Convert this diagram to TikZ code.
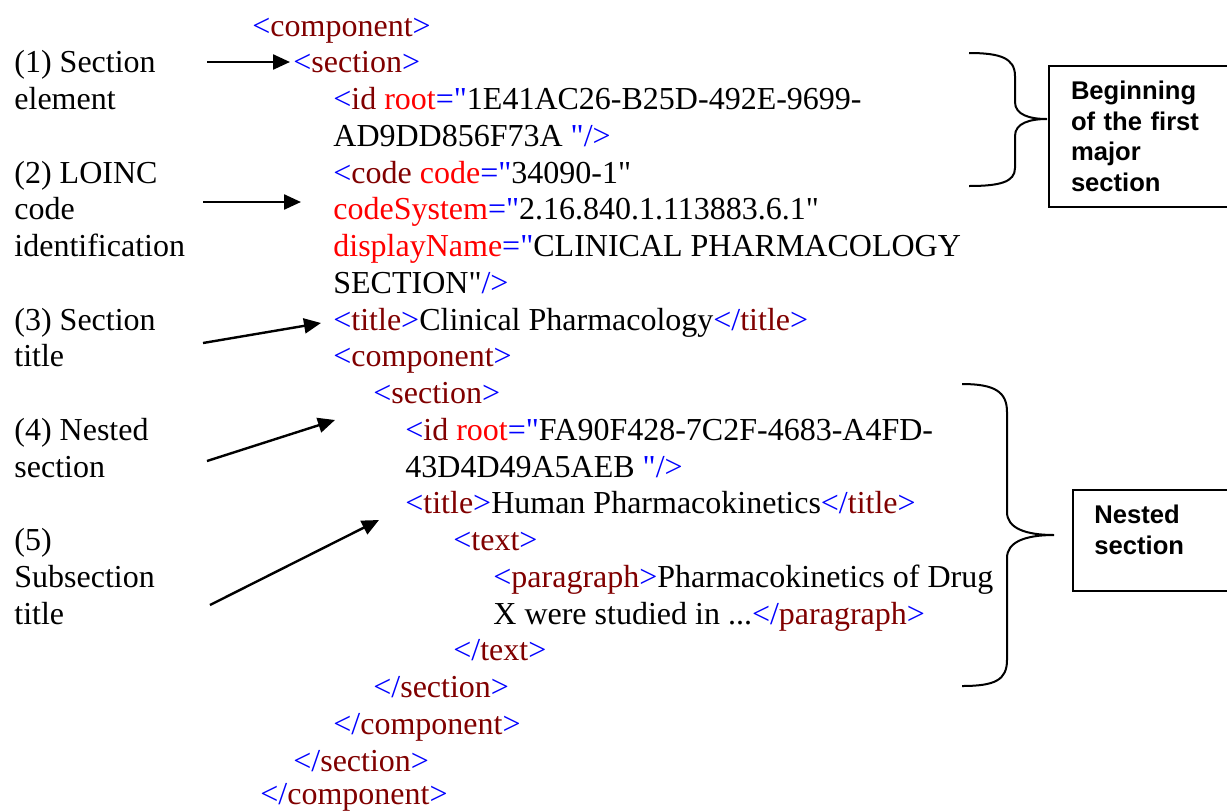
\documentclass[tikz,border=0pt]{standalone}
\usepackage{fontspec}
\setmainfont{Liberation Serif}[Ligatures=TeXOff]
\newfontfamily\boxfont{Liberation Sans}
\usetikzlibrary{arrows.meta}
\definecolor{xblue}{RGB}{0,0,255}
\definecolor{xtag}{RGB}{128,0,0}
\definecolor{xattr}{RGB}{255,0,0}
\newcommand\xb[1]{\textcolor{xblue}{#1}}
\newcommand\xt[1]{\textcolor{xtag}{#1}}
\newcommand\xa[1]{\textcolor{xattr}{#1}}
\tikzset{
  xml/.style={anchor=base west, inner sep=0pt, font=\fontsize{16}{18}\selectfont},
  lbl/.style={anchor=base west, inner sep=0pt, font=\fontsize{16}{18}\selectfont},
  arr/.style={line width=1.2pt, -{Triangle[length=8.5pt,width=7.5pt]}},
  brace/.style={line width=1pt},
  notebox/.style={draw, line width=1pt, anchor=north west, align=left,
    font=\boxfont\bfseries\fontsize{12.8}{15.3}\selectfont, inner xsep=11pt,
    text width=75pt},
  notetext/.style={anchor=north west, align=left, inner sep=0pt,
    font=\boxfont\bfseries\fontsize{12.8}{15.3}\selectfont},
  framebox/.style={draw, line width=1pt, anchor=north west, inner sep=0pt}
}
\begin{document}
\begin{tikzpicture}[x=0.5pt,y=-0.5pt]
\useasboundingbox (0,0) rectangle (1227,810);
\clip (0,0) rectangle (1227,810);
\def\L#1{36+36.76*#1}
% XML lines
\node[xml] (l0)  at (252,{\L{0}})  {\xb{<}\xt{component}\xb{>}};
\node[xml] (l1)  at (293,{\L{1}})  {\xb{<}\xt{section}\xb{>}};
\node[xml] (l2)  at (333,{\L{2}})  {\xb{<}\xt{id} \xa{root}\xb{="}1E41AC26-B25D-492E-9699-};
\node[xml] (l3)  at (333,{\L{3}})  {AD9DD856F73A \xb{"/>}};
\node[xml] (l4)  at (333,{\L{4}})  {\xb{<}\xt{code} \xa{code}\xb{="}34090-1"};
\node[xml] (l5)  at (333,{\L{5}})  {\xa{codeSystem}\xb{="}2.16.840.1.113883.6.1"};
\node[xml] (l6)  at (333,{\L{6}})  {\xa{displayName}\xb{="}CLINICAL PHARMACOLOGY};
\node[xml] (l7)  at (333,{\L{7}})  {SECTION"\xb{/>}};
\node[xml] (l8)  at (333,{\L{8}})  {\xb{<}\xt{title}\xb{>}Clinical Pharmacology\xb{</}\xt{title}\xb{>}};
\node[xml] (l9)  at (333,{\L{9}})  {\xb{<}\xt{component}\xb{>}};
\node[xml] (l10) at (373,{\L{10}}) {\xb{<}\xt{section}\xb{>}};
\node[xml] (l11) at (405,{\L{11}}) {\xb{<}\xt{id} \xa{root}\xb{="}FA90F428-7C2F-4683-A4FD-};
\node[xml] (l12) at (405,{\L{12}}) {43D4D49A5AEB \xb{"/>}};
\node[xml] (l13) at (405,{\L{13}}) {\xb{<}\xt{title}\xb{>}Human Pharmacokinetics\xb{</}\xt{title}\xb{>}};
\node[xml] (l14) at (453,{\L{14}}) {\xb{<}\xt{text}\xb{>}};
\node[xml] (l15) at (493,{\L{15}}) {\xb{<}\xt{paragraph}\xb{>}Pharmacokinetics of Drug};
\node[xml] (l16) at (493,{\L{16}}) {X were studied in ...\xb{</}\xt{paragraph}\xb{>}};
\node[xml] (l17) at (453,{\L{17}}) {\xb{</}\xt{text}\xb{>}};
\node[xml] (l18) at (373,{\L{18}}) {\xb{</}\xt{section}\xb{>}};
\node[xml] (l19) at (333,{\L{19}}) {\xb{</}\xt{component}\xb{>}};
\node[xml] (l20) at (293,{\L{20}}) {\xb{</}\xt{section}\xb{>}};
\node[xml] (l21) at (260,{\L{21}-3}) {\xb{</}\xt{component}\xb{>}};
% left labels
\node[lbl] (a1) at (14,{\L{1}})  {(1) Section};
\node[lbl] (a1b) at (14,{\L{2}}) {element};
\node[lbl] (a2) at (14,{\L{4}})  {(2) LOINC};
\node[lbl] (a2b) at (14,{\L{5}}) {code};
\node[lbl] (a2c) at (14,{\L{6}}) {identification};
\node[lbl] (a3) at (14,{\L{8}})  {(3) Section};
\node[lbl] (a3b) at (14,{\L{9}}) {title};
\node[lbl] (a4) at (14,{\L{11}}) {(4) Nested};
\node[lbl] (a4b) at (14,{\L{12}}) {section};
\node[lbl] (a5) at (14,{\L{14}}) {(5)};
\node[lbl] (a5b) at (14,{\L{15}}) {Subsection};
\node[lbl] (a5c) at (14,{\L{16}}) {title};
% arrows
\coordinate (s1) at (207,62);  \coordinate (e1) at (290,62);
\coordinate (s2) at (203,202); \coordinate (e2) at (301,202);
\coordinate (s3) at (203,343); \coordinate (e3) at (321,323);
\coordinate (s4) at (207,461); \coordinate (e4) at (335,420);
\coordinate (s5) at (210,605); \coordinate (e5) at (379,520);
\draw[arr] (s1) -- (e1);
\draw[arr] (s2) -- (e2);
\draw[arr] (s3) -- (e3);
\draw[arr] (s4) -- (e4);
\draw[arr] (s5) -- (e5);
% braces
\draw[brace] (969,53) .. controls (1000,53) and (1015,58) .. (1015,76)
  -- (1015,102) .. controls (1015,115) and (1030,119) .. (1047,119)
  .. controls (1030,119) and (1015,123) .. (1015,136)
  -- (1015,168) .. controls (1015,182) and (1000,186) .. (969,186);
\draw[brace] (962,384) .. controls (995,384) and (1007,392) .. (1007,412)
  -- (1007,512) .. controls (1007,528) and (1025,535) .. (1054,535)
  .. controls (1025,535) and (1007,542) .. (1007,558)
  -- (1007,660) .. controls (1007,680) and (995,686) .. (962,686);
% boxes
\node[notebox, minimum width=92pt, minimum height=70.5pt] (b1) at (1048,65)
  {Beginning\\of the first\\major\\section};
\node[framebox, minimum width=90pt, minimum height=50.5pt] (b2) at (1072,489) {};
\node[notetext] (b2t) at (1094,505) {Nested\\section};
\end{tikzpicture}
\end{document}
